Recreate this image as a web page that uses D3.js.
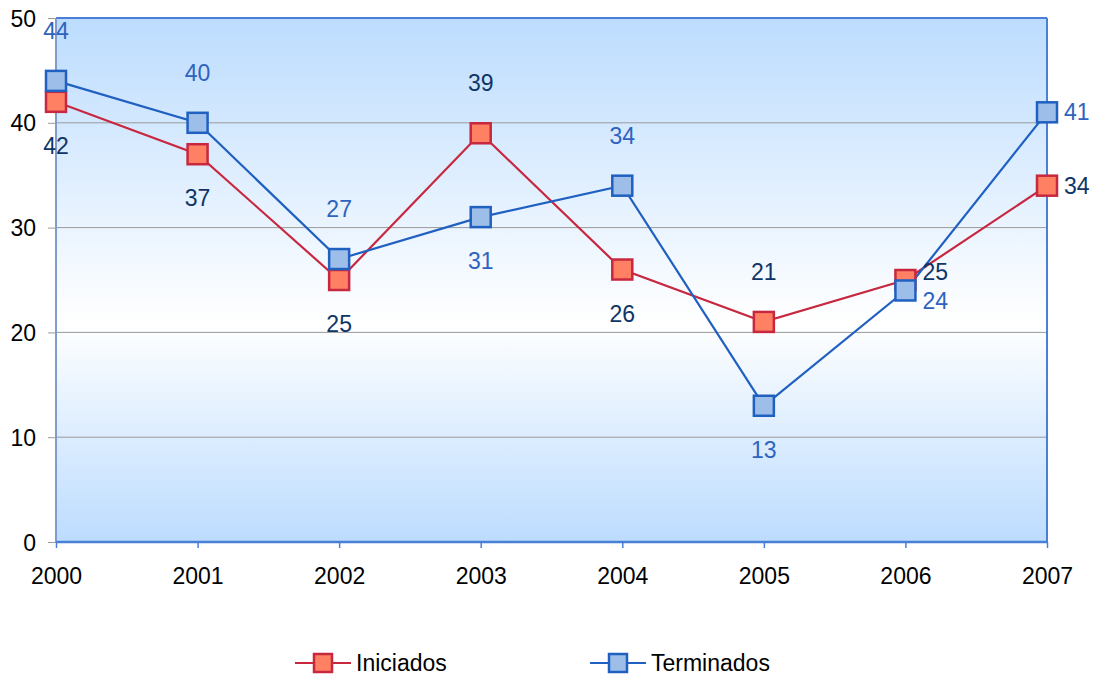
<!DOCTYPE html>
<html><head><meta charset="utf-8">
<script src="https://cdn.jsdelivr.net/npm/d3@7"></script>
<style>body{margin:0;background:#fff}svg{display:block;font-family:"Liberation Sans",Arial,sans-serif}</style>
</head><body>
<svg id="c" width="1096" height="678"></svg>
<script>
const years = ["2000","2001","2002","2003","2004","2005","2006","2007"];
const iniciados = [42,37,25,39,26,21,25,34];
const terminados = [44,40,27,31,34,13,24,41];
const yTicks = [0,10,20,30,40,50];
const seriesNames = ["Iniciados","Terminados"];

const FS = 23;
const svg = d3.select("#c");
const L=56, R=1047, T=18, B=542;
const x = d3.scalePoint().domain(years).range([L,R]);
const y = d3.scaleLinear().domain([0,50]).range([B,T]);

const defs = svg.append("defs");
const g = defs.append("linearGradient").attr("id","bg").attr("x1",0).attr("x2",0).attr("y1",0).attr("y2",1);
g.append("stop").attr("offset","0%").attr("stop-color","#bcdcfe");
g.append("stop").attr("offset","58%").attr("stop-color","#ffffff");
g.append("stop").attr("offset","100%").attr("stop-color","#bcdcfe");

svg.append("rect").attr("x",L).attr("y",T).attr("width",R-L).attr("height",B-T).attr("fill","url(#bg)");

// gridlines
svg.append("g").selectAll("line").data(yTicks.filter(d=>d>0&&d<50)).join("line")
  .attr("x1",L).attr("x2",R).attr("y1",d=>y(d)).attr("y2",d=>y(d)).attr("stroke","#9a9a9a").attr("stroke-width",1);

// borders
svg.append("line").attr("x1",L).attr("x2",R).attr("y1",T).attr("y2",T).attr("stroke","#4a7fd6").attr("stroke-width",2);
svg.append("line").attr("x1",R).attr("x2",R).attr("y1",T).attr("y2",B).attr("stroke","#4a7fd6").attr("stroke-width",2);
svg.append("line").attr("x1",L).attr("x2",L).attr("y1",T).attr("y2",B).attr("stroke","#7f9ccc").attr("stroke-width",2);

// y axis
const ya = svg.append("g").attr("transform",`translate(${L},0)`)
  .call(d3.axisLeft(y).tickValues(yTicks).tickSize(8).tickPadding(12));
ya.select(".domain").remove();
ya.selectAll(".tick line").attr("stroke","#9a9a9a");
ya.selectAll("text").attr("font-size",FS).attr("fill","#000").attr("dy","0.35em").attr("font-family","Liberation Sans, Arial, sans-serif");

// x axis
const xa = svg.append("g").attr("transform",`translate(0,${B})`)
  .call(d3.axisBottom(x).tickSize(6).tickPadding(20));
xa.select(".domain").attr("stroke","#4a7fd6").attr("stroke-width",2.5).attr("d",`M${L},0H${R}`);
xa.selectAll(".tick line").attr("stroke","#4a7fd6").attr("stroke-width",1.5);
xa.selectAll("text").attr("font-size",FS).attr("fill","#000").attr("font-family","Liberation Sans, Arial, sans-serif");

const series = [
  {name:seriesNames[0], vals:iniciados, other:terminados, line:"#c8283f", fill:"#ff8062", stroke:"#c8283f", label:"#0f3466"},
  {name:seriesNames[1], vals:terminados, other:iniciados, line:"#2060c0", fill:"#9dbee9", stroke:"#2060c0", label:"#2e63be"}
];
const sz=20;
series.forEach(s=>{
  svg.append("path").datum(s.vals)
    .attr("d", d3.line().x((d,i)=>x(years[i])).y(d=>y(d)))
    .attr("fill","none").attr("stroke",s.line).attr("stroke-width",2.2);
});
series.forEach(s=>{
  svg.append("g").selectAll("rect").data(s.vals).join("rect")
    .attr("x",(d,i)=>x(years[i])-sz/2).attr("y",d=>y(d)-sz/2)
    .attr("width",sz).attr("height",sz)
    .attr("fill",s.fill).attr("stroke",s.stroke).attr("stroke-width",2.5);
});
series.forEach(s=>{
  svg.append("g").selectAll("text").data(s.vals).join("text")
    .attr("font-size",FS).attr("fill",s.label)
    .each(function(d,i){
      const t=d3.select(this);
      const px=x(years[i]), py=y(d);
      if(i>=years.length-2){
        const up = d>=s.other[i];
        t.attr("x",px+17).attr("y",py+(i===years.length-2?(up?-8:10):0)).attr("dy","0.35em").attr("text-anchor","start");
      } else if(d>=s.other[i]){
        t.attr("x",px).attr("y",py-50).attr("dy","0.35em").attr("text-anchor","middle");
      } else {
        t.attr("x",px).attr("y",py+44).attr("dy","0.35em").attr("text-anchor","middle");
      }
    }).text(d=>d);
});

// legend
const leg = [{s:series[0],x0:295},{s:series[1],x0:590}];
leg.forEach(({s,x0})=>{
  const ly=663;
  svg.append("line").attr("x1",x0).attr("x2",x0+56).attr("y1",ly).attr("y2",ly).attr("stroke",s.line).attr("stroke-width",2.2);
  svg.append("rect").attr("x",x0+28-9).attr("y",ly-9).attr("width",18).attr("height",18).attr("fill",s.fill).attr("stroke",s.stroke).attr("stroke-width",2.5);
  svg.append("text").attr("x",x0+61).attr("y",ly).attr("dy","0.35em").attr("font-size",FS).attr("fill","#000").text(s.name);
});
</script>
</body></html>
